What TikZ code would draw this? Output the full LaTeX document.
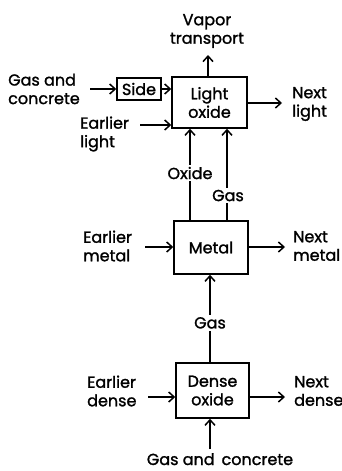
\documentclass[tikz,border=0pt]{standalone}
\usepackage{fontspec}
\setmainfont{Poppins}[FakeBold=1.4]
\usetikzlibrary{arrows.meta}
\begin{document}
\begin{tikzpicture}[x=1pt,y=-1pt,
 txt/.style={font=\fontsize{16}{18.5}\selectfont,inner sep=0pt},
 box/.style={txt,draw,line width=1.5pt,align=center},
 arr/.style={line width=1.5pt,-{Straight Barb[length=5.5pt,width=10pt,line width=1.5pt]}},
 lbl/.style={txt,fill=white,inner sep=2pt}]
\useasboundingbox (0,0) rectangle (342,471);
% boxes
\node[box,minimum width=75pt,minimum height=51pt] (lo) at (209.5,102.5) {Light\\oxide};
\node[box,minimum width=44pt,minimum height=22pt] (side) at (139,89) {Side};
\node[box,minimum width=74pt,minimum height=53pt] (metal) at (211,247.5) {Metal};
\node[box,minimum width=73pt,minimum height=55pt] (dense) at (212.5,390.5) {Dense\\oxide};
% texts
\node[txt,align=left,anchor=west] (gc) at (8,89) {Gas and\\concrete};
\node[txt,align=left,anchor=west] (el) at (80,134) {Earlier\\light};
\node[txt,align=left,anchor=west] (nl) at (292,104) {Next\\light};
\node[txt,align=center] (vt) at (207,31) {Vapor\\transport};
\node[txt,align=left,anchor=west] (em) at (83,246) {Earlier\\metal};
\node[txt,align=left,anchor=west] (nm) at (293,246) {Next\\metal};
\node[txt,align=left,anchor=west] (ed) at (87,391) {Earlier\\dense};
\node[txt,align=left,anchor=west] (nd) at (294,391) {Next\\dense};
\node[txt,anchor=base] (gcb) at (220,465) {Gas and\, concrete};
% free ends
\coordinate (gcA) at (90,89);
\coordinate (elA) at (140,125);
\coordinate (nlA) at (282,103);
\coordinate (vtA) at (208,55);
\coordinate (emA) at (145,247);
\coordinate (nmA) at (285,247);
\coordinate (edA) at (148,397);
\coordinate (ndA) at (285,397);
\coordinate (gcbA) at (210,449);
% light oxide connectors
\draw[arr] (gcA) -- (side.west |- gcA);
\draw[arr] (side.east |- gcA) -- (lo.west |- gcA);
\draw[arr] (elA) -- (lo.west |- elA);
\draw[arr] (lo.east |- nlA) -- (nlA);
\draw[arr] (lo.north -| vtA) -- (vtA);
% metal to light oxide
\draw[arr] (metal.north -| 190,0) -- node[lbl,pos=0.516]{Oxide} (lo.south -| 190,0);
\draw[arr] (metal.north -| 227,0) -- node[lbl,pos=0.27,xshift=1pt]{Gas} (lo.south -| 227,0);
\draw[arr] (emA) -- (metal.west |- emA);
\draw[arr] (metal.east |- nmA) -- (nmA);
% dense to metal
\draw[arr] (dense.north -| 210,0) -- node[lbl,pos=0.45]{Gas} (metal.south -| 210,0);
\draw[arr] (edA) -- (dense.west |- edA);
\draw[arr] (dense.east |- ndA) -- (ndA);
\draw[arr] (gcbA) -- (dense.south -| gcbA);
\end{tikzpicture}
\end{document}
